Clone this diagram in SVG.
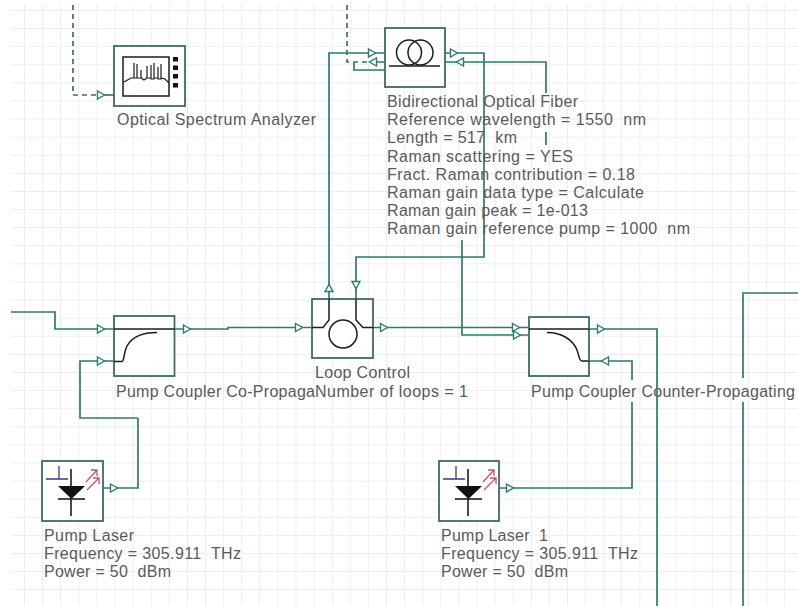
<svg xmlns="http://www.w3.org/2000/svg" width="798" height="606" viewBox="0 0 798 606">
<style>
.c{fill:none;stroke:#2f7a70;stroke-width:1.7}
.d{fill:none;stroke:#3d6f68;stroke-width:1.7;stroke-dasharray:5 4}
.a{fill:#fff;stroke:#2f7a70;stroke-width:1.4}
.b{fill:#fff;stroke:#3f6b65;stroke-width:1.8}
.k{fill:none;stroke:#1c1c1c;stroke-width:1.5}
.t{font-family:"Liberation Sans",Arial,sans-serif;font-size:16px;fill:#5a5a5a;white-space:pre}
</style>
<defs>
<pattern id="g" patternUnits="userSpaceOnUse" x="24" y="10" width="18.1" height="18.1">
<path d="M0.5,0V18.1M0,0.5H18.1" fill="none" stroke="#ecedf2" stroke-width="1"/>
</pattern>
<path id="p" d="M-3.500,-4L3.500,0L-3.500,4Z"/>
<g id="laser">
<path d="M29,8V55" fill="none" stroke="#1c1c1c" stroke-width="1.6"/>
<path d="M16,25H43L29.500,38Z" fill="#111"/>
<path d="M16,38H43" fill="none" stroke="#1c1c1c" stroke-width="1.6"/>
<path d="M4,18H26M17,5V18" fill="none" stroke="#3b3a80" stroke-width="1.3"/>
<path d="M44,21L55,9M49,9H55V15M45,29L57,17M51,17H57V23" fill="none" stroke="#c25563" stroke-width="1.3"/>
</g>
</defs>
<rect width="798" height="606" fill="#fff"/>
<rect x="11" y="4" width="787" height="602" fill="url(#g)"/>
<g id="connectors">
<path class="d" d="M73,5V95H100"/>
<path class="c" d="M104,95H114"/>
<path class="d" d="M347,5V62H373"/>
<path class="c" d="M374,62H385M385,70H354V62"/>
<path class="c" d="M329,288V53H385"/>
<path class="c" d="M445,53H484V257H356V285"/>
<path class="c" d="M445,62H546V93M546,132V145"/>
<path class="c" d="M462,240V335H529"/>
<path class="c" d="M11,312H55V329H114"/>
<path class="c" d="M138,418V488H103M138,418H80V361H114"/>
<path class="c" d="M174,329H228V327.500H312"/>
<path class="c" d="M373,327.500H529"/>
<path class="c" d="M589,329H657V606"/>
<path class="c" d="M589,361H632V380M632,402V488H499"/>
<path class="c" d="M798,293H743V378M743,402V606"/>
<path class="c" d="M329,288V299M356,285V299"/>
<use href="#p" class="a" transform="translate(101,95)"/>
<use href="#p" class="a" transform="translate(372,53)"/>
<use href="#p" class="a" transform="translate(373,62) rotate(180)"/>
<use href="#p" class="a" transform="translate(454,53)"/>
<use href="#p" class="a" transform="translate(460,62) rotate(180)"/>
<use href="#p" class="a" transform="translate(101,329)"/>
<use href="#p" class="a" transform="translate(187,329)"/>
<use href="#p" class="a" transform="translate(101,361)"/>
<use href="#p" class="a" transform="translate(114,488)"/>
<use href="#p" class="a" transform="translate(299,327.500)"/>
<use href="#p" class="a" transform="translate(329,288) rotate(-90)"/>
<use href="#p" class="a" transform="translate(356,285) rotate(90)"/>
<use href="#p" class="a" transform="translate(384,327.500)"/>
<use href="#p" class="a" transform="translate(516,327.500)"/>
<use href="#p" class="a" transform="translate(517,335)"/>
<use href="#p" class="a" transform="translate(601,329)"/>
<use href="#p" class="a" transform="translate(605,361) rotate(180)"/>
<use href="#p" class="a" transform="translate(510,488)"/>
</g>
<g id="osa">
<rect class="b" x="114" y="46" width="71" height="60"/>
<rect x="123" y="57" width="46" height="39" fill="none" stroke="#1c1c1c" stroke-width="1.5"/>
<path d="M124,82L131,78H134V63V78H137V64V78H141V70V78L144,80L147,78V66V78H151V65V79H154V63V78H158V67V79H161V64V78L165,79L169,83" fill="none" stroke="#1c1c1c" stroke-width="1.2"/>
<path d="M173,57h5v4.500h-5zM173,65.500h5v4.500h-5zM173,74h5v4.500h-5zM173,83h5v4.500h-5z" fill="#111"/>
<text class="t" x="117" y="125" textLength="199">Optical Spectrum Analyzer</text>
</g>
<g id="fiber">
<rect class="b" x="385" y="28" width="60" height="59"/>
<circle class="k" cx="409" cy="52.500" r="12.500"/>
<circle class="k" cx="420.500" cy="52.500" r="12.500"/>
<path class="k" d="M389,66H440"/>
<text class="t" x="387" y="107" textLength="191">Bidirectional Optical Fiber</text>
<text class="t" x="387" y="125" textLength="259">Reference wavelength = 1550  nm</text>
<text class="t" x="387" y="143" textLength="130">Length = 517  km</text>
<text class="t" x="387" y="161.500" textLength="186">Raman scattering = YES</text>
<text class="t" x="387" y="180" textLength="248">Fract. Raman contribution = 0.18</text>
<text class="t" x="387" y="198" textLength="257">Raman gain data type = Calculate</text>
<text class="t" x="387" y="216" textLength="201">Raman gain peak = 1e-013</text>
<text class="t" x="387" y="234" textLength="303">Raman gain reference pump = 1000  nm</text>
</g>
<g id="coupler-co">
<rect class="b" x="114" y="316" width="60.500" height="60"/>
<path class="k" d="M114,329H174.500"/>
<path class="k" d="M114,361.500H122C124,361.500 124,352 127,346C132,337 143,332.500 157,332.500" stroke-width="1.8"/>
<text class="t" x="116" y="397" textLength="199">Pump Coupler Co-Propaga</text>
</g>
<g id="loop">
<rect class="b" x="312" y="299" width="61" height="59"/>
<path class="k" d="M312,327.500H323L329,320V299M373,327.500H363L356,320V299"/>
<circle class="k" cx="343" cy="334" r="14"/>
<text class="t" x="315" y="378" textLength="95">Loop Control</text>
<text class="t" x="315" y="396.500" textLength="153">Number of loops = 1</text>
</g>
<g id="coupler-counter">
<rect class="b" x="529" y="317" width="60" height="59"/>
<path class="k" d="M529,329H589"/>
<path class="k" d="M547,332.500C562,332.500 573,340 577,350C579,355 579,361 582,361H589" stroke-width="1.8"/>
<text class="t" x="531" y="397" textLength="264">Pump Coupler Counter-Propagating</text>
</g>
<g id="laser-1">
<rect class="b" x="42" y="461" width="61" height="60"/>
<use href="#laser" x="42" y="461"/>
<text class="t" x="44" y="541" textLength="90">Pump Laser</text>
<text class="t" x="44" y="559" textLength="197">Frequency = 305.911  THz</text>
<text class="t" x="44" y="577" textLength="127">Power = 50  dBm</text>
</g>
<g id="laser-2">
<rect class="b" x="439" y="461" width="60" height="60"/>
<use href="#laser" x="439" y="461"/>
<text class="t" x="441" y="541" textLength="107">Pump Laser  1</text>
<text class="t" x="441" y="559" textLength="197">Frequency = 305.911  THz</text>
<text class="t" x="441" y="577" textLength="127">Power = 50  dBm</text>
</g>
</svg>
